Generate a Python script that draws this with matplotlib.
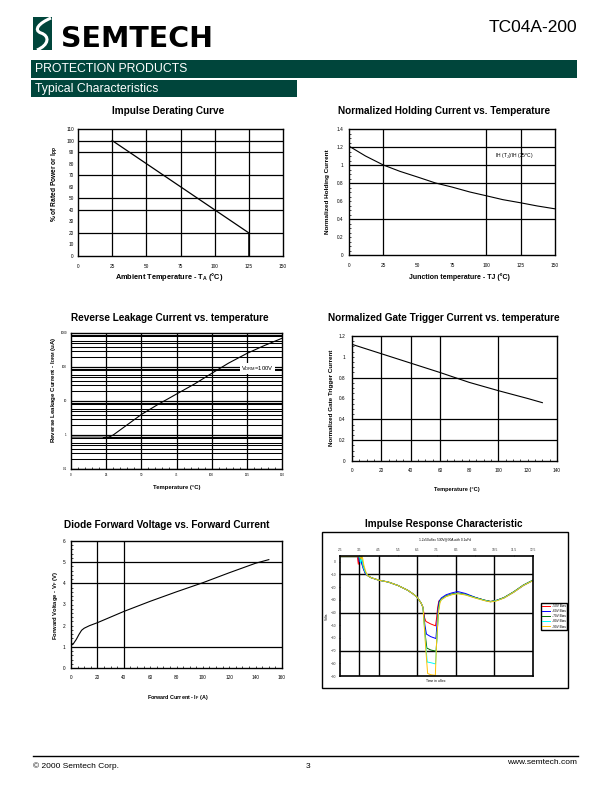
import matplotlib
matplotlib.use('Agg')
import matplotlib.pyplot as plt
from matplotlib.patches import Rectangle, PathPatch
from matplotlib.path import Path
from matplotlib.ticker import MultipleLocator, NullLocator

plt.rcParams['font.family'] = ['Liberation Sans', 'DejaVu Sans']
plt.rcParams['mathtext.fontset'] = 'custom'
plt.rcParams['mathtext.rm'] = 'Liberation Sans'
plt.rcParams['mathtext.bf'] = 'Liberation Sans:bold'
plt.rcParams['mathtext.default'] = 'rm'

W, H = 612, 792
GREEN = '#00453b'

# ---- data ----
derate_temp = [25, 125, 125]
derate_pct = [100, 20, 0]
derate_vgrid = [25, 50, 75, 100, 125]
derate_hgrid = [20, 40, 50, 70, 90, 100]

hold_temp = [0, 12, 25, 37, 50, 63, 75, 88, 100, 112, 125, 137, 150]
hold_ratio = [1.21, 1.10, 1.00, 0.93, 0.866, 0.80, 0.755, 0.70, 0.658, 0.615, 0.58, 0.545, 0.513]
hold_vgrid = [25, 100, 125]
hold_hgrid = [0.4, 0.8, 1.0, 1.2]

leak_temp = [0, 22, 27, 30, 40, 50, 62, 75, 88, 100, 112, 125, 137, 150]
leak_current = [0.85, 0.85, 0.87, 1.0, 2.0, 4.0, 8.0, 16, 32, 65, 130, 250, 420, 700]
leak_vgrid = [25, 50, 75, 100, 125]
leak_decades = [0.1, 1, 10, 100]
leak_minor = [2, 3, 4, 5, 6, 8, 9]

gate_temp = [0, 20, 40, 60, 80, 100, 120, 130]
gate_ratio = [1.12, 1.03, 0.94, 0.85, 0.755, 0.675, 0.60, 0.56]
gate_vgrid = [20, 40, 60, 100]
gate_hgrid = [0.2, 0.4, 0.8]

fwd_current = [0, 1.5, 4, 6, 8, 10, 14, 20, 40, 60, 80, 100, 120, 140, 150]
fwd_voltage = [1.08, 1.12, 1.35, 1.58, 1.78, 1.88, 2.0, 2.14, 2.67, 3.15, 3.6, 4.03, 4.5, 4.95, 5.12]
fwd_vgrid = [20, 40]
fwd_hgrid = [1, 4, 5]

imp_labels = ['-50V Bias', '-60V Bias', '-70V Bias', '-80V Bias', '-90V Bias']
imp_colors = ['#ff0000', '#0000ff', '#007000', '#00ffff', '#ffc000']
imp_t_start = [2.5, 3.4]
imp_v_start = [4.0, 4.0]
imp_t_spike = [
    [3.45, 3.48, 3.52, 3.6, 3.7, 3.8, 3.9],
    [3.47, 3.5, 3.55, 3.62, 3.72, 3.82, 3.92],
    [3.5, 3.53, 3.6, 3.68, 3.78, 3.88, 3.95],
    [3.52, 3.56, 3.62, 3.7, 3.8, 3.9, 3.97],
    [3.55, 3.6, 3.66, 3.74, 3.84, 3.93, 4.0],
]
imp_v_spike = [
    [-2, 4, 3, 0, -5, -9, -10.5],
    [4, 0, 4, -1, -6, -9.5, -10.8],
    [4, 1, 4, -2, -7, -10, -11],
    [4, -1, 3, -4, -8, -10.5, -11.2],
    [4, 2, 4, -3, -8, -11, -11.5],
]
imp_t_mid = [4.1, 4.5, 5.0, 5.5, 6.0, 6.3, 6.5, 6.7, 6.8]
imp_v_mid = [-12.5, -14.5, -16, -18.7, -22.4, -25.5, -28, -32.5, -36]
imp_t_dip = [
    [6.88, 6.95, 7.2, 7.45, 7.5, 7.56, 7.62],
    [6.9, 6.98, 7.2, 7.47, 7.52, 7.58, 7.64],
    [6.92, 7.0, 7.2, 7.48, 7.54, 7.6, 7.66],
    [6.94, 7.02, 7.2, 7.45, 7.52, 7.6, 7.67],
    [6.95, 7.04, 7.2, 7.44, 7.5, 7.6, 7.68],
]
imp_v_dip = [
    [-44, -47, -49, -50.5, -45, -36, -31],
    [-50, -57, -59, -60.5, -50, -37, -31],
    [-58, -68, -69.5, -70.5, -55, -38, -31.5],
    [-65, -79, -79.5, -80.5, -60, -39, -32],
    [-70, -88, -89, -89.5, -65, -40, -32.5],
]
imp_t_end = [7.75, 8.0, 8.3, 8.6, 9.0, 9.5, 10.0, 10.3, 10.6, 11.0, 11.5, 12.0, 12.5]
imp_v_end = [
    [-29.5, -27, -25.5, -24.7, -25.8, -28.2, -30.3, -31.3, -30.5, -28.2, -23.7, -18.4, -14.5],
    [-28.5, -26, -24.5, -23.5, -25, -28, -30.5, -31.5, -30.5, -28.5, -24, -18.8, -14.8],
    [-29.5, -27, -25.5, -24.7, -25.8, -28.2, -30.3, -31.3, -30.5, -28.2, -23.7, -18.4, -14.5],
    [-29.8, -27.3, -25.8, -25, -26, -28.4, -30.5, -31.5, -30.7, -28.4, -23.9, -18.6, -14.7],
    [-30, -27.5, -26, -25.2, -26.2, -28.6, -30.7, -31.7, -30.9, -28.6, -24.1, -18.8, -14.9],
]
imp_ticks_x = [2.5, 3.5, 4.5, 5.5, 6.5, 7.5, 8.5, 9.5, 10.5, 11.5, 12.5]
imp_ticks_y = [0, -10, -20, -30, -40, -50, -60, -70, -80, -90]
imp_vgrid = [3.5, 4.5, 6.5, 8.5, 10.5]
imp_hgrid = [-10, -40, -70]


def box(l, t, r, b):
    return [l / W, 1 - b / H, (r - l) / W, (b - t) / H]


def style(ax, lw=1.0):
    for s in ax.spines.values():
        s.set_linewidth(lw)


fig = plt.figure(figsize=(W / 100, H / 100), dpi=100)

# page furniture drawn in pixel coordinates
bg = fig.add_axes([0, 0, 1, 1])
bg.set_xlim(0, W)
bg.set_ylim(H, 0)
bg.axis('off')

bg.add_patch(Rectangle((33, 17), 19, 33, color=GREEN, lw=0))
swoosh = Path([(51, 18), (39, 23), (33, 30), (41, 33), (50, 36), (49, 45), (37, 50)],
              [Path.MOVETO, Path.CURVE4, Path.CURVE4, Path.CURVE4, Path.CURVE4, Path.CURVE4, Path.CURVE4])
bg.add_patch(PathPatch(swoosh, fill=False, edgecolor='white', lw=2.2))
bg.text(61, 39, 'SEMTECH', family='DejaVu Sans', weight='bold', fontsize=20.5, va='center', ha='left')
bg.text(577, 28, 'TC04A-200', fontsize=12.5, va='center', ha='right')

bg.add_patch(Rectangle((31, 60), 546, 18, color=GREEN, lw=0))
bg.text(35, 69.5, 'PROTECTION PRODUCTS', fontsize=8.8, color='white', va='center')
bg.add_patch(Rectangle((31, 80), 266, 17, color=GREEN, lw=0))
bg.text(35, 89, 'Typical Characteristics', fontsize=8.8, color='white', va='center')

bg.plot([33, 578], [756, 756], color='black', lw=1)
bg.text(33, 766, '\u00a9 2000 Semtech Corp.', fontsize=6, va='center')
bg.text(308, 766, '3', fontsize=6, va='center', ha='center')
bg.text(577, 762, 'www.semtech.com', fontsize=6, va='center', ha='right')

bg.add_patch(Rectangle((322, 532), 246, 156, fill=False, edgecolor='black', lw=1))

# titles and axis labels
titles = [
    (168, 111, 'Impulse Derating Curve'),
    (444, 111, 'Normalized Holding Current vs. Temperature'),
    (170, 318, 'Reverse Leakage Current vs. temperature'),
    (444, 318, 'Normalized Gate Trigger Current vs. temperature'),
    (167, 525, 'Diode Forward Voltage vs. Forward Current'),
    (444, 524, 'Impulse Response Characteristic'),
]
for x, y, s in titles:
    bg.text(x, y, s, fontsize=7.2, weight='bold', ha='center', va='center')

bg.text(169, 277, r'Ambient Temperature - T$_\mathbf{A}$ (°C)', fontsize=5.3, weight='bold', ha='center', va='center')
bg.text(55, 184, r'% of Rated Power or I$_\mathbf{PP}$', fontsize=4.8, weight='bold', ha='center', va='center', rotation=90)
bg.text(459, 277, 'Junction temperature - TJ (°C)', fontsize=5.0, weight='bold', ha='center', va='center')
bg.text(328, 192, 'Normalized Holding Current', fontsize=4.6, weight='bold', ha='center', va='center', rotation=90)
bg.text(177, 487, 'Temperature (°C)', fontsize=4.2, weight='bold', ha='center', va='center')
bg.text(53, 390, r'Reverse Leakage Current - I$_\mathbf{DRM}$ (uA)', fontsize=4.4, weight='bold', ha='center', va='center', rotation=90)
bg.text(457, 490, 'Temperature (°C)', fontsize=4.1, weight='bold', ha='center', va='center')
bg.text(332, 398, 'Normalized Gate Trigger Current', fontsize=4.5, weight='bold', ha='center', va='center', rotation=90)
bg.text(178, 698, r'Forward Current - I$_\mathbf{F}$ (A)', fontsize=3.9, weight='bold', ha='center', va='center')
bg.text(55, 605, r'Forward Voltage - V$_\mathbf{F}$ (V)', fontsize=4.2, weight='bold', ha='center', va='center', rotation=90)
bg.text(327, 616, 'Volts', fontsize=2.4, ha='center', va='center', rotation=90)
bg.text(436, 681, 'Time in uSec', fontsize=2.4, ha='center', va='center')
bg.text(445, 539, '1.2x50uSec 530V@30A with 0.1uFd', fontsize=2.3, ha='center', va='center')

GL = dict(color='black', lw=0.9)

# 1. impulse derating
ax1 = fig.add_axes(box(78, 129, 283, 256))
ax1.plot(derate_temp, derate_pct, color='black', lw=0.9)
for v in derate_vgrid:
    ax1.axvline(v, **GL)
for h in derate_hgrid:
    ax1.axhline(h, **GL)
ax1.set_xlim(0, 150)
ax1.set_ylim(0, 110)
ax1.set_xticks(range(0, 151, 25))
ax1.set_yticks(range(0, 111, 10))
ax1.tick_params(length=0, labelsize=3.4)
ax1.tick_params(axis='x', pad=5.5)
ax1.tick_params(axis='y', pad=3)
style(ax1)

# 2. holding current
ax2 = fig.add_axes(box(349, 129, 555, 255))
ax2.plot(hold_temp, hold_ratio, color='black', lw=0.8)
for v in hold_vgrid:
    ax2.axvline(v, **GL)
for h in hold_hgrid:
    ax2.axhline(h, **GL)
ax2.set_xlim(0, 150)
ax2.set_ylim(0, 1.4)
ax2.set_xticks(range(0, 151, 25))
ax2.set_yticks([0, 0.2, 0.4, 0.6, 0.8, 1, 1.2, 1.4])
ax2.set_yticklabels(['0', '0.2', '0.4', '0.6', '0.8', '1', '1.2', '1.4'])
ax2.yaxis.set_minor_locator(MultipleLocator(0.05))
ax2.tick_params(which='both', direction='in', length=1.5, width=0.5, labelsize=3.4)
ax2.tick_params(axis='x', length=0, pad=5.5)
ax2.tick_params(axis='y', pad=4)
ax2.text(106, 1.1, r'IH (T$_J$)/IH (25$^o$C)', fontsize=3.6, va='center')
style(ax2)

# 3. reverse leakage
ax3 = fig.add_axes(box(71, 333, 282, 469))
ax3.set_yscale('log')
for d in leak_decades:
    ax3.axhline(d, **GL)
    for m in leak_minor:
        ax3.axhline(d * m, color='black', lw=0.75)
for v in leak_vgrid:
    ax3.axvline(v, **GL)
ax3.plot(leak_temp, leak_current, color='black', lw=0.8)
ax3.plot(leak_temp[:2], leak_current[:2], color='#888888', lw=1.1)
ax3.set_xlim(0, 150)
ax3.set_ylim(0.1, 1000)
ax3.set_xticks(range(0, 151, 25))
ax3.xaxis.set_minor_locator(MultipleLocator(5))
ax3.set_yticks([0.1, 1, 10, 100, 1000])
ax3.set_yticklabels(['0.1', '1', '10', '100', '1000'])
ax3.yaxis.set_minor_locator(NullLocator())
ax3.tick_params(which='both', direction='in', length=1.2, width=0.5, labelsize=2.2, pad=3)
ax3.text(121, 89, r'V$_{DRM}$=100V', fontsize=4.2, va='center',
         bbox=dict(facecolor='white', edgecolor='none', pad=0.8))
style(ax3)

# 4. gate trigger current
ax4 = fig.add_axes(box(352, 336, 557, 461))
ax4.plot(gate_temp, gate_ratio, color='black', lw=0.8)
for v in gate_vgrid:
    ax4.axvline(v, **GL)
for h in gate_hgrid:
    ax4.axhline(h, **GL)
ax4.set_xlim(0, 140)
ax4.set_ylim(0, 1.2)
ax4.set_xticks(range(0, 141, 20))
ax4.set_yticks([0, 0.2, 0.4, 0.6, 0.8, 1, 1.2])
ax4.set_yticklabels(['0', '0.2', '0.4', '0.6', '0.8', '1', '1.2'])
ax4.xaxis.set_minor_locator(MultipleLocator(5))
ax4.yaxis.set_minor_locator(MultipleLocator(0.05))
ax4.tick_params(which='both', direction='in', length=1.5, width=0.5, labelsize=3.4)
ax4.tick_params(axis='x', pad=5)
ax4.tick_params(axis='y', pad=5)
style(ax4)

# 5. diode forward voltage
ax5 = fig.add_axes(box(71, 541, 282, 668))
ax5.plot(fwd_current, fwd_voltage, color='black', lw=0.8)
for v in fwd_vgrid:
    ax5.axvline(v, **GL)
for h in fwd_hgrid:
    ax5.axhline(h, **GL)
ax5.set_xlim(0, 160)
ax5.set_ylim(0, 6)
ax5.set_xticks(range(0, 161, 20))
ax5.set_yticks(range(0, 7))
ax5.xaxis.set_minor_locator(MultipleLocator(5))
ax5.yaxis.set_minor_locator(MultipleLocator(0.2))
ax5.tick_params(which='both', direction='in', length=1.5, width=0.5, labelsize=3.4)
ax5.tick_params(axis='x', pad=5)
ax5.tick_params(axis='y', pad=4)
style(ax5)

# 6. impulse response
ax6 = fig.add_axes(box(340, 556, 533, 676))
for v in imp_vgrid:
    ax6.axvline(v, color='black', lw=1.0)
for h in imp_hgrid:
    ax6.axhline(h, color='black', lw=1.0)
for i in range(len(imp_labels)):
    t = imp_t_start + imp_t_spike[i] + imp_t_mid + imp_t_dip[i] + imp_t_end
    v = imp_v_start + imp_v_spike[i] + imp_v_mid + imp_v_dip[i] + imp_v_end[i]
    ax6.plot(t, v, color=imp_colors[i], lw=0.7, label=imp_labels[i])
ax6.set_xlim(2.5, 12.5)
ax6.set_ylim(-90, 4.5)
ax6.xaxis.tick_top()
ax6.set_xticks(imp_ticks_x)
ax6.set_xticklabels([str(x) for x in imp_ticks_x])
ax6.set_yticks(imp_ticks_y)
ax6.tick_params(length=1, width=0.4, labelsize=2.3, pad=2, labelcolor='#333333')
style(ax6, 1.2)
leg = ax6.legend(loc='upper left', bbox_to_anchor=(541 / W, 1 - 603 / H), bbox_transform=fig.transFigure,
                 fontsize=2.3, handlelength=2.6, handletextpad=0.4, labelspacing=0.35, borderpad=0.35,
                 borderaxespad=0, fancybox=False, edgecolor='black', framealpha=1)
leg.get_frame().set_linewidth(1)

fig.savefig('out.png', dpi=100)
